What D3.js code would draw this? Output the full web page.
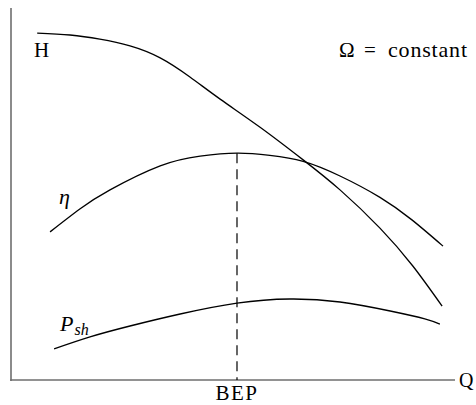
<!DOCTYPE html>
<html>
<head>
<meta charset="utf-8">
<script src="https://cdn.jsdelivr.net/npm/d3@7"></script>
<style>
  html, body { margin: 0; padding: 0; background: #fff; }
  svg { display: block; }
  text { font-family: "Liberation Serif", "DejaVu Serif", serif; fill: #000; }
</style>
</head>
<body>
<svg id="chart" width="476" height="405"></svg>
<script>
// Pump characteristics at constant speed (arbitrary units, flow rate Q on 0–100)
const headQ   = [5.9, 13.3, 20.0, 26.8, 33.6, 40.3, 47.1, 56.1, 65.8, 74.1, 83.1, 90.5, 97.1];
const headVal = [92.5, 92.0, 90.9, 89.1, 85.9, 80.8, 74.9, 67.4, 58.7, 50.7, 40.5, 30.4, 19.7];

const etaQ   = [8.8, 15.5, 22.3, 33.6, 42.6, 50.9, 58.3, 65.8, 74.1, 83.1, 90.3, 97.3];
const etaVal = [39.5, 45.6, 50.7, 57.1, 59.7, 60.5, 59.9, 58.3, 54.4, 48.7, 42.7, 35.7];

const powerQ   = [9.7, 17.8, 26.8, 38.1, 50.9, 62.8, 74.1, 85.4, 93.2, 96.6];
const powerVal = [8.3, 11.5, 14.4, 17.6, 20.5, 21.6, 20.8, 18.4, 16.3, 14.9];

// Best efficiency point
const bepQ = 50.9;
const bepEta = 60.5;

const svg = d3.select("#chart");

const x = d3.scaleLinear().domain([0, 100]).range([11, 455]);
const y = d3.scaleLinear().domain([0, 100]).range([380, 5]);

// Axes: plain gray lines without ticks
const axisColor = "#6e6e6e";
svg.append("line")
  .attr("x1", x(0)).attr("x2", x(0))
  .attr("y1", y(0) + 1).attr("y2", y(99.2))
  .attr("stroke", axisColor).attr("stroke-width", 1.6);
svg.append("line")
  .attr("x1", x(0) - 0.8).attr("x2", x(100))
  .attr("y1", y(0)).attr("y2", y(0))
  .attr("stroke", axisColor).attr("stroke-width", 1.6);

const line = d3.line()
  .x(d => x(d[0]))
  .y(d => y(d[1]))
  .curve(d3.curveNatural);

const series = [
  d3.zip(headQ, headVal),
  d3.zip(etaQ, etaVal),
  d3.zip(powerQ, powerVal)
];

svg.selectAll("path.curve")
  .data(series)
  .join("path")
  .attr("class", "curve")
  .attr("d", line)
  .attr("fill", "none")
  .attr("stroke", "#000")
  .attr("stroke-width", 1.3);

// Dashed marker at the best efficiency point
svg.append("line")
  .attr("x1", x(bepQ)).attr("x2", x(bepQ))
  .attr("y1", y(bepEta)).attr("y2", y(0))
  .attr("stroke", "#000").attr("stroke-width", 1.2)
  .attr("stroke-dasharray", "10,6");

// Labels
svg.append("text").attr("x", 34).attr("y", 57)
  .style("font-size", "21px").text("H");

svg.append("text").attr("x", 339).attr("y", 57)
  .style("font-size", "21px").text("Ω");
svg.append("text").attr("x", 364).attr("y", 57)
  .style("font-size", "21px").text("=");
svg.append("text").attr("x", 388).attr("y", 57)
  .attr("textLength", 79).attr("lengthAdjust", "spacing")
  .style("font-size", "22px").text("constant");

svg.append("text").attr("x", 59).attr("y", 204)
  .style("font-size", "22px").style("font-style", "italic").text("η");

const psh = svg.append("text").attr("x", 60).attr("y", 331)
  .style("font-size", "22px").style("font-style", "italic");
psh.append("tspan").text("P");
psh.append("tspan").attr("dy", 4).attr("dx", 1).style("font-size", "16px").text("sh");

svg.append("text").attr("x", x(bepQ)).attr("y", 400)
  .attr("text-anchor", "middle")
  .style("font-size", "21px").style("letter-spacing", "1.5px").text("BEP");

svg.append("text").attr("x", 459).attr("y", 387)
  .style("font-size", "20px").text("Q");
</script>
</body>
</html>
